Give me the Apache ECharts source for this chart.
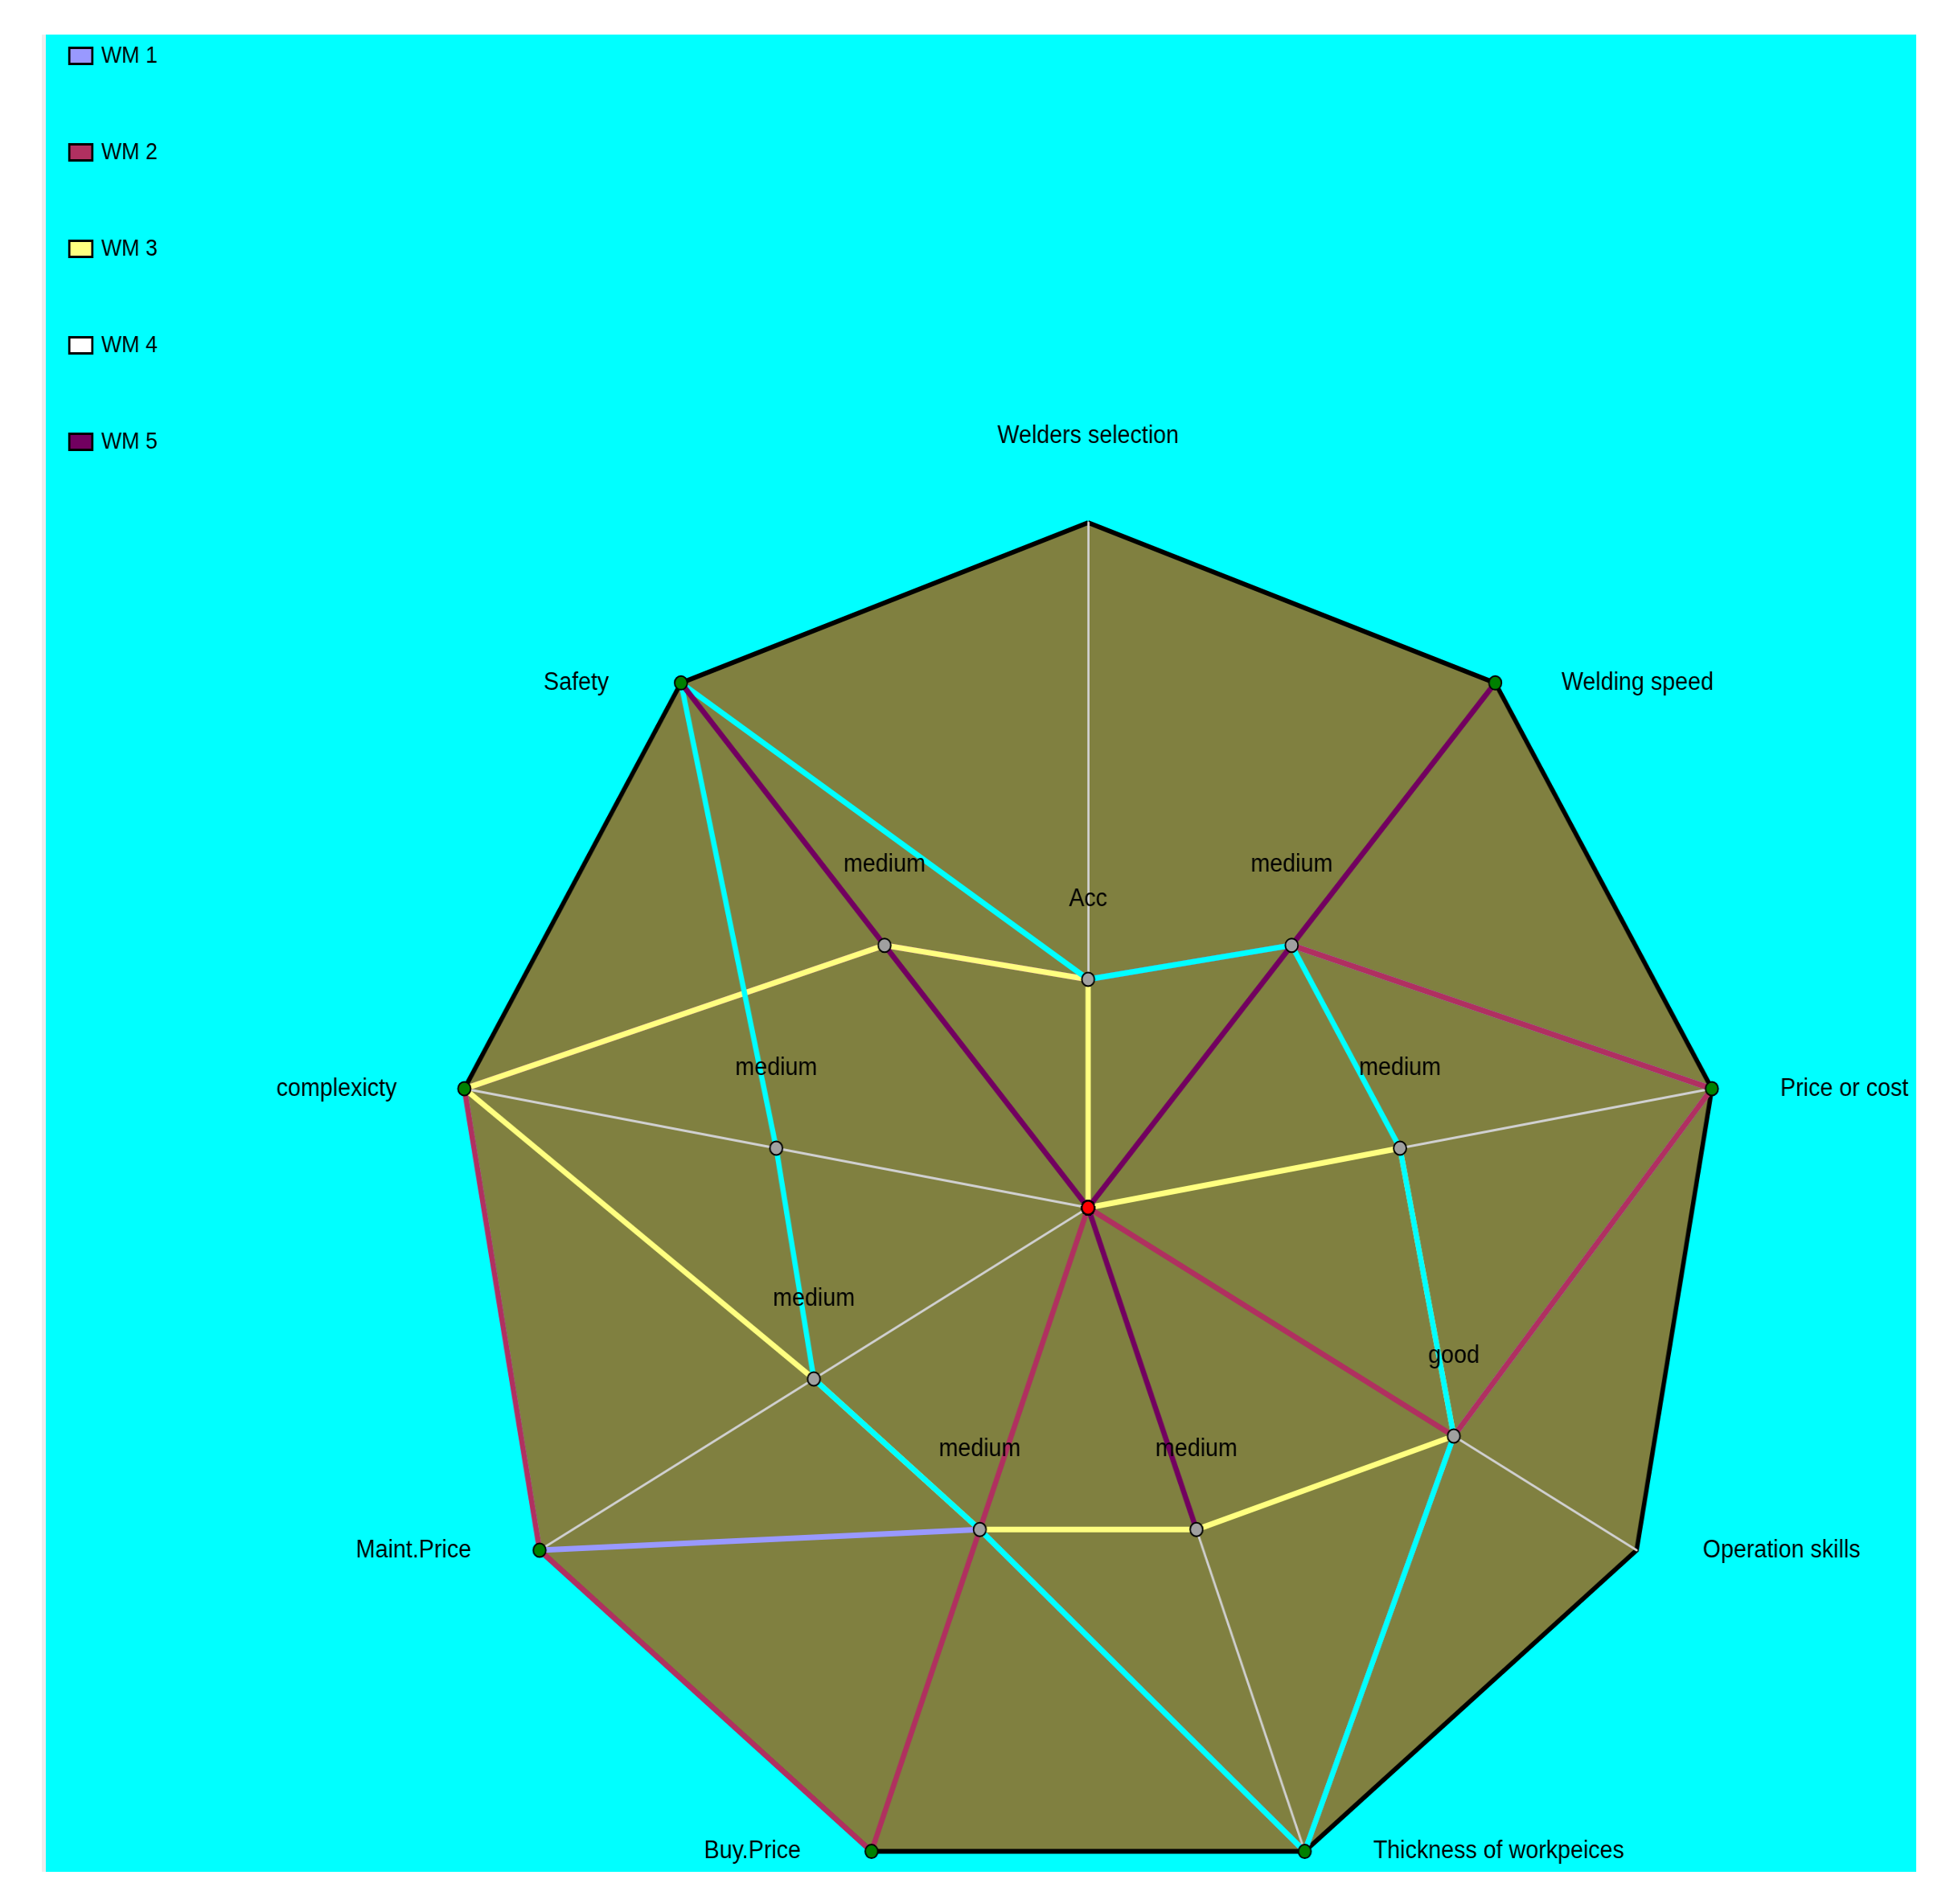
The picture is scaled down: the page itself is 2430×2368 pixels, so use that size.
<!DOCTYPE html>
<html>
<head>
<meta charset="utf-8">
<title>WM radar</title>
<script src="https://cdn.jsdelivr.net/npm/echarts@6/dist/echarts.min.js"></script>
<style>
  html, body { margin: 0; background: #ffffff; }
  #frame { position: absolute; left: 52px; top: 43px; width: 2326px; height: 2285px;
           background: #00ffff; border-left: 5px solid #eeeeee; overflow: hidden; }
  /* the source picture is squeezed horizontally, so the whole chart is too */
  #chart { width: 2516px; height: 2285px; transform: scaleX(0.9245); transform-origin: 0 0; }
</style>
</head>
<body>
<div id="frame"><div id="chart"></div></div>
<script>
// axes, clockwise from the top as in the picture
const categories = ['Welders selection', 'Welding speed', 'Price or cost', 'Operation skills',
    'Thickness of workpeices', 'Buy.Price', 'Maint.Price', 'complexicty', 'Safety'];
const axisMax = [3, 2, 2, 3, 2, 2, 2, 2, 2];
const levelNames = [
    ['', 'Acc', '', ''],
    ['', 'medium', ''],
    ['', 'medium', ''],
    ['', 'medium', 'good', ''],
    ['', 'medium', ''],
    ['', 'medium', ''],
    ['', 'medium', ''],
    ['', 'medium', ''],
    ['', 'medium', '']
];

const seriesNames = ['WM 1', 'WM 2', 'WM 3', 'WM 4', 'WM 5'];
const wm1 = [1, 1, 2, 2, 2, 1, 2, 2, 1];
const wm2 = [1, 1, 2, 2, 0, 2, 2, 2, 1];
const wm3 = [1, 0, 1, 2, 1, 1, 1, 2, 1];
const wm4 = [1, 1, 1, 2, 2, 1, 1, 1, 2];
const wm5 = [0, 2, 0, 0, 1, 0, 0, 0, 2];

const lineColors = ['#9999ff', '#b03060', '#ffff80', '#00ffff', '#720060'];
const legendColors = ['#9999ff', '#b03060', '#ffff80', '#ffffff', '#720060'];

// echarts lays indicators out counter-clockwise, so flip the order
const ccw = [0, 8, 7, 6, 5, 4, 3, 2, 1];
const reorder = arr => ccw.map(i => arr[i]);

// label offsets from the vertex (top one goes up, right side left-aligned, left side right-aligned)
const nameGaps = [180, 89, 92, 89, 92, 95, 92, 91, 97];
const fontFamily = '"Liberation Sans", Arial, sans-serif';

const rich = {};
categories.forEach((c, i) => {
    let pad;
    if (i === 0) pad = [0, 0, nameGaps[i], 0];
    else if (i <= 4) pad = [0, 0, 0, nameGaps[i]];
    else pad = [0, nameGaps[i], 0, 0];
    rich['g' + i] = { padding: pad, fontSize: 31, lineHeight: 36, color: '#000', fontFamily: fontFamily };
});

// point markers: green on the outline, grey in between, red in the centre
const allSeries = [wm1, wm2, wm3, wm4, wm5];
const markerItems = [];
categories.forEach((c, d) => {
    const seen = [];
    allSeries.forEach(vals => {
        const v = vals[d];
        if (v > 0 && seen.indexOf(v) < 0) seen.push(v);
    });
    seen.forEach(v => {
        const vals = categories.map(() => 0);
        vals[d] = v;
        const atEdge = v === axisMax[d];
        markerItems.push({
            name: 'pt',
            value: reorder(vals),
            tag: atEdge ? '' : levelNames[d][v],
            itemStyle: { color: atEdge ? '#008000' : '#a0a0a0' }
        });
    });
});
markerItems.push({ name: 'pt', value: categories.map(() => 0), tag: '', itemStyle: { color: '#ff0000' } });

const chart = echarts.init(document.getElementById('chart'));

const wmSeries = allSeries.map((vals, i) => ({
    type: 'radar',
    name: seriesNames[i],
    symbol: 'none',
    lineStyle: { color: lineColors[i], width: 7, opacity: 1 },
    itemStyle: { color: lineColors[i] },
    data: [{ name: seriesNames[i], value: reorder(vals) }]
}));

chart.setOption({
    animation: false,
    backgroundColor: 'transparent',
    legend: {
        orient: 'vertical',
        left: 25,
        top: 7,
        itemWidth: 31,
        itemHeight: 20,
        itemGap: 91,
        icon: 'rect',
        data: seriesNames.map((n, i) => ({
            name: n,
            itemStyle: { color: legendColors[i], borderColor: '#000', borderWidth: 3 }
        })),
        textStyle: { fontSize: 29, lineHeight: 24, color: '#000', fontFamily: fontFamily, padding: [0, 0, 0, 7] }
    },
    radar: {
        center: [1402, 1459],
        radius: 852,
        startAngle: 90,
        splitNumber: 1,
        shape: 'polygon',
        indicator: ccw.map(i => ({ name: categories[i], min: 0, max: axisMax[i] })),
        axisNameGap: 0,
        axisName: {
            color: '#000',
            fontSize: 31,
            fontFamily: fontFamily,
            formatter: function (name) {
                return '{g' + categories.indexOf(name) + '|' + name + '}';
            },
            rich: rich
        },
        axisLine: { lineStyle: { color: '#d0d0d0', width: 3 } },
        axisTick: { show: false },
        axisLabel: { show: false },
        splitLine: { lineStyle: { color: '#000', width: 6 } },
        splitArea: { show: true, areaStyle: { color: ['#808040'], opacity: 1 } }
    },
    series: wmSeries.concat([{
        type: 'radar',
        name: 'points',
        symbol: 'circle',
        symbolSize: 17,
        silent: true,
        lineStyle: { width: 0, opacity: 0 },
        itemStyle: { borderColor: '#000', borderWidth: 2 },
        label: {
            show: true,
            position: 'top',
            distance: 75,
            fontSize: 31,
            color: '#000',
            fontFamily: fontFamily,
            formatter: function (p) {
                return p.value > 0 ? (p.data.tag || '') : '';
            }
        },
        data: markerItems
    }])
});
</script>
</body>
</html>
